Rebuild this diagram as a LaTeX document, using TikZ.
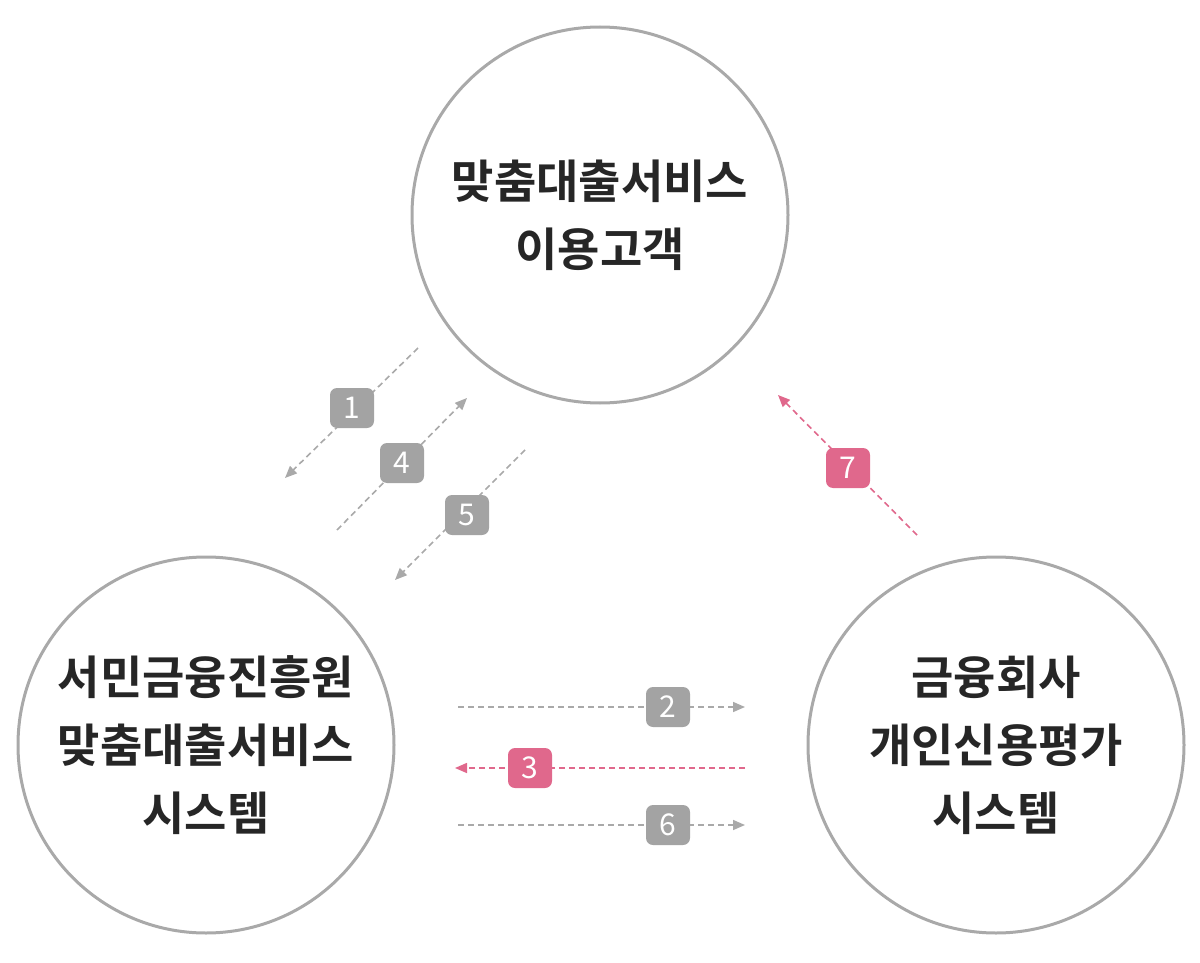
\documentclass[tikz,border=0pt]{standalone}
\usepackage{fontspec}
\newfontfamily\kr{Noto Sans CJK KR Bold}
\newfontfamily\krm{Noto Sans CJK KR}
\usetikzlibrary{arrows.meta}
\definecolor{cg}{HTML}{A9A9A9}
\definecolor{bg}{HTML}{A3A3A3}
\definecolor{pk}{HTML}{E0688C}
\tikzset{
 bigc/.style={circle,draw=cg,line width=3pt,minimum size=376pt,inner sep=0pt,align=center,font=\kr\fontsize{46}{68}\selectfont,text=black!85},
 conn/.style={draw=cg,dashed,line width=1.6pt,dash pattern=on 6pt off 4pt,-{Triangle[length=12pt,width=10pt]}},
 pconn/.style={conn,draw=pk,-{Triangle[length=12pt,width=10pt,fill=pk]}},
 badge/.style={rounded corners=7pt,fill=bg,minimum width=44pt,minimum height=40pt,inner sep=0pt,text=white,font=\krm\fontsize{30}{30}\selectfont},
 pbadge/.style={badge,fill=pk}
}
\begin{document}
\begin{tikzpicture}[x=1pt,y=-1pt]
\useasboundingbox (0,0) rectangle (1200,963);
\node[bigc] (top) at (600,215) {맞춤대출서비스\\이용고객};
\node[bigc] (bl) at (206,745) {서민금융진흥원\\맞춤대출서비스\\시스템};
\node[bigc] (br) at (996,745) {금융회사\\개인신용평가\\시스템};
\coordinate (a1s) at (418,348); \coordinate (a1e) at (285,478);
\coordinate (a4s) at (337,530); \coordinate (a4e) at (467,398);
\coordinate (a5s) at (525,450); \coordinate (a5e) at (395,580);
\coordinate (a7s) at (917,535); \coordinate (a7e) at (778,395);
\coordinate (a2s) at (458,707); \coordinate (a2e) at (745,707);
\coordinate (a3s) at (745,768); \coordinate (a3e) at (455,768);
\coordinate (a6s) at (458,825); \coordinate (a6e) at (745,825);
\draw[conn] (a1s) -- (a1e);
\draw[conn] (a4s) -- (a4e);
\draw[conn] (a5s) -- (a5e);
\draw[pconn] (a7s) -- (a7e);
\draw[conn] (a2s) -- (a2e);
\draw[pconn] (a3s) -- (a3e);
\draw[conn] (a6s) -- (a6e);
\node[badge] (b1) at (352,408) {1};
\node[badge] (b4) at (402,463) {4};
\node[badge] (b5) at (467,515) {5};
\node[pbadge] (b7) at (848,468) {7};
\node[badge] (b2) at (668,707) {2};
\node[pbadge] (b3) at (530,768) {3};
\node[badge] (b6) at (668,825) {6};
\end{tikzpicture}
\end{document}
